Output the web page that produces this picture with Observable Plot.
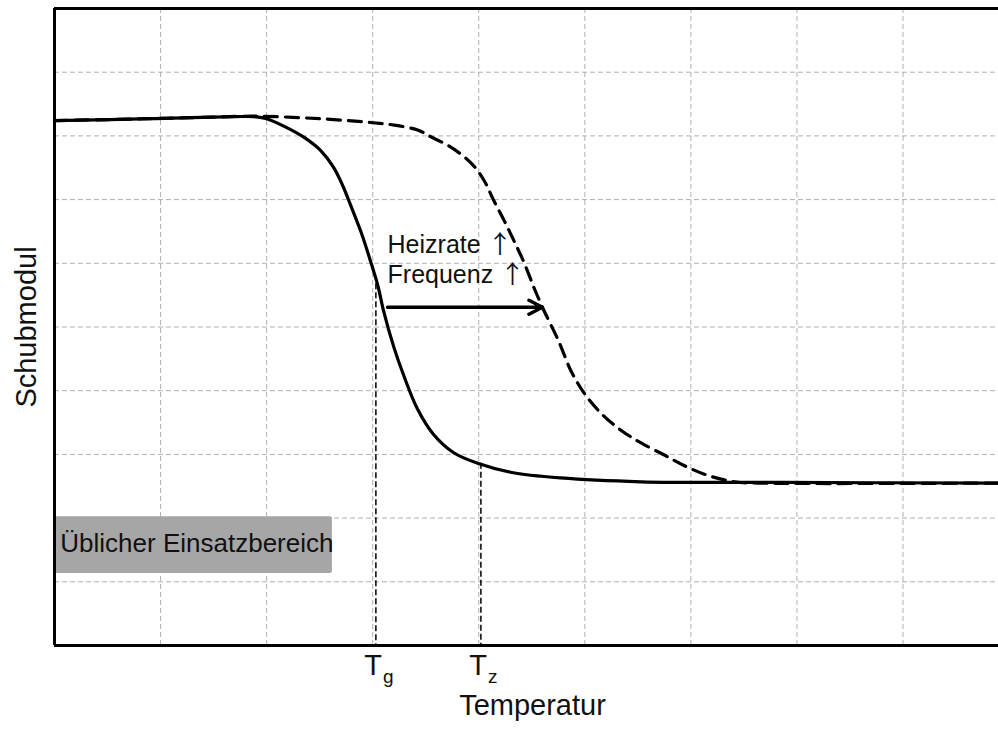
<!DOCTYPE html>
<html>
<head>
<meta charset="utf-8">
<script src="https://cdn.jsdelivr.net/npm/d3@7"></script>
<script src="https://cdn.jsdelivr.net/npm/@observablehq/plot@0.6"></script>
<style>
  html, body { margin: 0; padding: 0; background: #fff; overflow: hidden; }
  #chart svg { display: block; }
</style>
</head>
<body>
<div id="chart"></div>
<script>
// ---- data ----
const solidX = [0, 0.9, 1.6, 1.9, 2.0, 2.19, 2.35, 2.51, 2.63, 2.72, 2.79, 2.89, 2.98, 3.05, 3.10, 3.20, 3.29, 3.42, 3.57, 3.76, 3.99, 4.30, 4.77, 5.53, 6.85, 8.9];
const solidY = [8.24, 8.27, 8.30, 8.30, 8.27, 8.13, 7.98, 7.77, 7.51, 7.21, 6.92, 6.49, 6.03, 5.64, 5.27, 4.68, 4.25, 3.72, 3.32, 3.03, 2.86, 2.72, 2.63, 2.57, 2.56, 2.55];
const dashX = [0, 0.9, 1.6, 1.9, 2.5, 2.98, 3.2, 3.43, 3.52, 3.74, 3.93, 4.05, 4.14, 4.24, 4.33, 4.43, 4.52, 4.60, 4.75, 4.87, 4.99, 5.15, 5.34, 5.53, 5.75, 5.93, 6.16, 6.41, 6.63, 8.9];
const dashY = [8.24, 8.27, 8.30, 8.31, 8.27, 8.21, 8.17, 8.09, 8.01, 7.82, 7.57, 7.30, 6.99, 6.67, 6.36, 6.00, 5.62, 5.31, 4.79, 4.31, 3.97, 3.65, 3.38, 3.18, 2.99, 2.83, 2.67, 2.57, 2.55, 2.55];
const markerX = [3.03, 4.02];          // T_g, T_z
const markerY = [5.68, 2.86];          // curve value at marker
const markerMain = ["T", "T"];
const markerSub = ["g", "z"];
const gridX = [1, 2, 3, 4, 5, 6, 7, 8];
const gridY = [1, 2, 3, 4, 5, 6, 7, 8, 9];
const arrowX = [3.14, 4.60];
const arrowY = [5.31];
const annLines = ["Heizrate ↑", "Frequenz ↑"];
const annY = [6.28, 5.81];
const boxLabel = ["Üblicher Einsatzbereich"];
const boxRange = [0, 2.62, 1.13, 2.02]; // x1, x2, y1, y2
const xLabel = ["Temperatur"];
const yLabel = ["Schubmodul"];

// ---- tables ----
const solid = solidX.map((x, i) => ({x, y: solidY[i]}));
const dashed = dashX.map((x, i) => ({x, y: dashY[i]}));
const markers = markerX.map((x, i) => ({x, y: markerY[i], main: markerMain[i], sub: markerSub[i]}));
const ann = annLines.map((t, i) => ({t, y: annY[i]}));

const font = "'Liberation Sans', Arial, Helvetica, sans-serif";

const chart = Plot.plot({
  width: 998,
  height: 731,
  marginLeft: 54,
  marginRight: 0,
  marginTop: 8,
  marginBottom: 86,
  x: {domain: [0, 8.9], axis: null},
  y: {domain: [0, 10], axis: null},
  style: {fontFamily: font, background: "#fff", color: "#000"},
  marks: [
    Plot.ruleX(gridX, {stroke: "#b0b0b0", strokeWidth: 1, strokeDasharray: "5,3"}),
    Plot.ruleY(gridY, {stroke: "#b0b0b0", strokeWidth: 1, strokeDasharray: "5,3"}),
    Plot.rect([boxRange], {x1: d => d[0], x2: d => d[1], y1: d => d[2], y2: d => d[3], fill: "#a6a6a6", rx: 2}),
    Plot.text(boxLabel, {x: () => 0.055, y: () => 1.6, text: d => d, textAnchor: "start", fontSize: 26, fill: "#111"}),
    Plot.ruleX(markers, {x: "x", y1: "y", y2: () => 0, stroke: "#000", strokeWidth: 1.5, strokeDasharray: "6,3"}),
    Plot.line(solid, {x: "x", y: "y", curve: "catmull-rom", stroke: "#000", strokeWidth: 3.2}),
    Plot.line(dashed, {x: "x", y: "y", curve: "catmull-rom", stroke: "#000", strokeWidth: 3.2, strokeDasharray: "13,8"}),
    Plot.arrow(arrowY, {x1: () => arrowX[0], x2: () => arrowX[1], y1: d => d, y2: d => d, stroke: "#000", strokeWidth: 3.5, headLength: 6.5, headAngle: 55}),
    Plot.text(ann, {x: () => 3.14, y: "y", text: "t", textAnchor: "start", fontSize: 25, fill: "#111"}),
    Plot.ruleX([0], {stroke: "#000", strokeWidth: 3}),
    Plot.ruleY([0, 10], {stroke: "#000", strokeWidth: 3}),
    Plot.text(markers, {x: "x", frameAnchor: "bottom", text: "main", textAnchor: "end", dx: 6, dy: 29, fontSize: 29, fill: "#111"}),
    Plot.text(markers, {x: "x", frameAnchor: "bottom", text: "sub", textAnchor: "start", dx: 7, dy: 37, fontSize: 19, fill: "#111"}),
    Plot.text(xLabel, {frameAnchor: "bottom", text: d => d, textAnchor: "middle", dx: 6, dy: 69, fontSize: 29, fill: "#111"}),
    Plot.text(yLabel, {frameAnchor: "left", text: d => d, textAnchor: "middle", rotate: -90, dx: -28, dy: 0, fontSize: 29, fill: "#111"})
  ]
});
// render the ↑ glyph in a font with a tall, thin arrow (as in the original)
chart.querySelectorAll("text").forEach(t => {
  const s = t.textContent;
  if (s.includes("↑") && t.childElementCount === 0) {
    const parts = s.split("↑");
    t.textContent = "";
    parts.forEach((p, i) => {
      if (p) t.appendChild(document.createTextNode(p));
      if (i < parts.length - 1) {
        const ts = document.createElementNS("http://www.w3.org/2000/svg", "tspan");
        ts.setAttribute("font-family", "'Noto Sans CJK JP', 'DejaVu Sans', sans-serif");
        ts.textContent = "↑";
        t.appendChild(ts);
      }
    });
  }
});
document.getElementById("chart").append(chart);
</script>
</body>
</html>
